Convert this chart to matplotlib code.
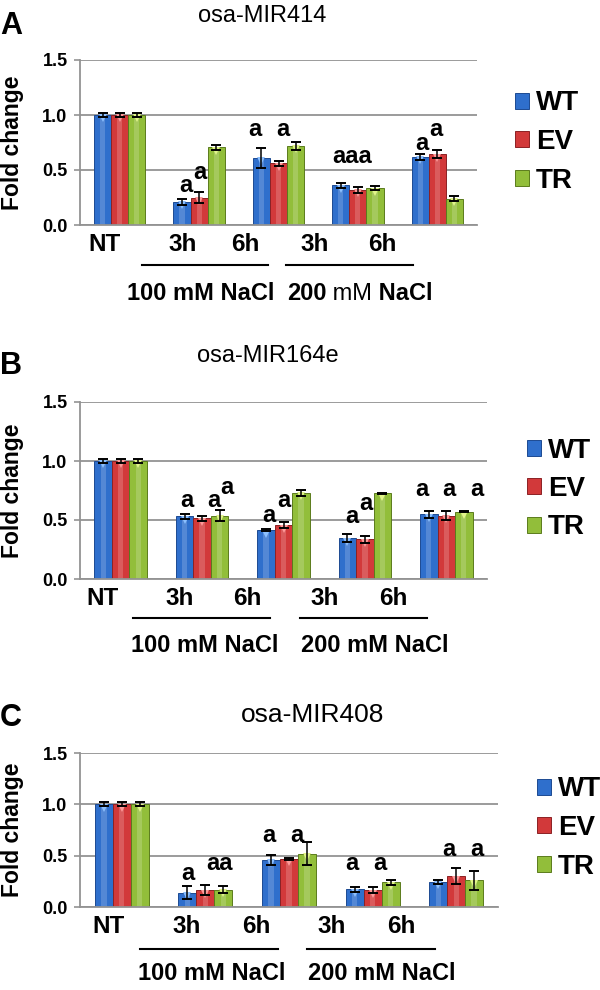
import matplotlib
matplotlib.use("Agg")
import matplotlib.pyplot as plt
import numpy as np
from matplotlib import transforms
from matplotlib.ticker import FormatStrFormatter

plt.rcParams['font.family'] = ['Liberation Sans', 'DejaVu Sans']

W, H = 600, 990

# -----------------------------
# DATA
# -----------------------------
lines = ["WT", "EV", "TR"]
groups = ["NT", "3h", "6h", "3h", "6h"]
conditions = ["100 mM NaCl", "200 mM NaCl"]

# A: osa-MIR414
a_wt = [1.00, 0.21, 0.61, 0.36, 0.62]
a_wt_err = [0.02, 0.025, 0.09, 0.02, 0.025]
a_ev = [1.00, 0.25, 0.56, 0.32, 0.645]
a_ev_err = [0.02, 0.05, 0.02, 0.03, 0.04]
a_tr = [1.00, 0.705, 0.72, 0.335, 0.24]
a_tr_err = [0.02, 0.02, 0.035, 0.02, 0.02]
a_letters = [(1.33, 0.36, "a"), (1.51, 0.48, "a"), (2.20, 0.87, "a"), (2.56, 0.87, "a"),
             (3.43, 0.62, "aaa"), (4.31, 0.74, "a"), (4.48, 0.87, "a")]

# B: osa-MIR164e
b_wt = [1.00, 0.53, 0.415, 0.345, 0.55]
b_wt_err = [0.02, 0.025, 0.005, 0.035, 0.03]
b_ev = [1.00, 0.515, 0.457, 0.336, 0.537]
b_ev_err = [0.02, 0.02, 0.025, 0.03, 0.04]
b_tr = [1.00, 0.537, 0.73, 0.726, 0.57]
b_tr_err = [0.02, 0.045, 0.025, 0.005, 0.005]
b_letters = [(1.31, 0.664, "a"), (1.64, 0.664, "a"), (1.81, 0.777, "a"),
             (2.32, 0.54, "a"), (2.50, 0.664, "a"),
             (3.34, 0.528, "a"), (3.51, 0.64, "a"),
             (4.20, 0.76, "a"), (4.53, 0.76, "a"), (4.88, 0.76, "a")]

# C: osa-MIR408
c_wt = [1.00, 0.14, 0.458, 0.173, 0.245]
c_wt_err = [0.02, 0.06, 0.045, 0.025, 0.02]
c_ev = [1.00, 0.163, 0.47, 0.163, 0.30]
c_ev_err = [0.02, 0.05, 0.01, 0.03, 0.08]
c_tr = [1.00, 0.17, 0.52, 0.24, 0.26]
c_tr_err = [0.02, 0.03, 0.11, 0.025, 0.09]
c_letters = [(1.29, 0.327, "a"), (1.67, 0.425, "aa"), (2.26, 0.693, "a"), (2.60, 0.70, "a"),
             (3.25, 0.425, "a"), (3.59, 0.425, "a"), (4.41, 0.556, "a"), (4.75, 0.556, "a")]

# -----------------------------
# LAYOUT (pixel positions in the 600x990 image)
# -----------------------------
panels = [
    dict(tag="A", title="osa-MIR414", tsize=17, title_xy=(262, 16), tag_y=26,
         box=(80, 60, 477, 225), vals=(a_wt, a_ev, a_tr), errs=(a_wt_err, a_ev_err, a_tr_err),
         letters=a_letters, tick_px=[105, 183, 245, 315, 382], tick_y=247,
         line_y=265, line_x=[(142, 268), (286, 413)], cond_y=294, cond_x=[201, 287],
         leg=(515, 142)),
    dict(tag="B", title="osa-MIR164e", tsize=17, title_xy=(268, 356), tag_y=366,
         box=(80, 402, 487, 579), vals=(b_wt, b_ev, b_tr), errs=(b_wt_err, b_ev_err, b_tr_err),
         letters=b_letters, tick_px=[102, 180, 247, 325, 393], tick_y=602,
         line_y=618, line_x=[(133, 270), (300, 427)], cond_y=645, cond_x=[205, 375],
         leg=(527, 489)),
    dict(tag="C", title="osa-MIR408", tsize=19, title_xy=(313, 715), tag_y=718,
         box=(80, 753, 498, 907), vals=(c_wt, c_ev, c_tr), errs=(c_wt_err, c_ev_err, c_tr_err),
         letters=c_letters, tick_px=[109, 187, 256, 332, 401], tick_y=932,
         line_y=949, line_x=[(140, 278), (307, 435)], cond_y=974, cond_x=[212, 382],
         leg=(537, 828)),
]

face = ["#2f6fcc", "#d2393a", "#92be3a"]
edge = ["#1d4a92", "#8c2124", "#5b7b1d"]
light = ["#8cc0ff", "#ff9a9a", "#e2f58a"]
grey = "#939393"


def fx(px):
    return px / W


def fy(py):
    return 1 - py / H


fig = plt.figure(figsize=(6, 9.9), dpi=100)

for p in panels:
    x0, y0, x1, y1 = p["box"]
    ax = fig.add_axes([fx(x0), fy(y1), (x1 - x0) / W, (y1 - y0) / H])
    ax.set_xlim(0, 5)
    ax.set_ylim(0, 1.5)
    ax.set_axisbelow(True)

    x = np.arange(len(groups)) + 0.5
    w = 0.215
    handles = []
    for i in range(3):
        xi = x + (i - 1) * w
        b = ax.bar(xi, p["vals"][i], width=w, color=face[i], edgecolor=edge[i],
                   linewidth=0.7, label=lines[i], zorder=2)
        handles.append(b)
        # light stripe + top highlight for the glossy look
        ax.bar(xi, p["vals"][i], width=w * 0.3, color="white", alpha=0.18,
               linewidth=0, zorder=2.1)
        shift = transforms.offset_copy(ax.transData, fig=fig, x=0, y=-2.5, units="points")
        ax.plot(xi, p["vals"][i], "v", ms=6, color=light[i], mew=0,
                transform=shift, zorder=2.2)
        ax.errorbar(xi, p["vals"][i], yerr=p["errs"][i], fmt="none", ecolor="black",
                    elinewidth=1.1, capsize=3.5, capthick=1.4, zorder=3)

    for lx, ly, s in p["letters"]:
        ax.text(lx, ly, s, ha="center", va="center", fontsize=17,
                fontweight="bold", zorder=4)

    # axes styling
    ax.set_yticks([0, 0.5, 1.0, 1.5])
    ax.yaxis.set_major_formatter(FormatStrFormatter("%.1f"))
    ax.grid(axis="y", color=grey, linewidth=1.3)
    for s in ["top", "right"]:
        ax.spines[s].set_visible(False)
    for s in ["left", "bottom"]:
        ax.spines[s].set_color(grey)
        ax.spines[s].set_linewidth(1.3)
    ax.tick_params(axis="y", length=4, color=grey, width=1.2, pad=5,
                   labelsize=13)
    for t in ax.get_yticklabels():
        t.set_fontweight("bold")

    tick_pos = [(px - x0) / (x1 - x0) * 5 for px in p["tick_px"]]
    ax.set_xticks(tick_pos, groups)
    ax.tick_params(axis="x", length=0, labelsize=17.5, pad=6)
    for t in ax.get_xticklabels():
        t.set_fontweight("bold")

    fig.text(fx(13), fy((y0 + y1) / 2), "Fold change", rotation=90, ha="center",
             va="center", fontsize=16.5, fontweight="bold")

    fig.text(fx(p["title_xy"][0]), fy(p["title_xy"][1]), p["title"], ha="center",
             va="center", fontsize=p["tsize"])
    fig.text(fx(0), fy(p["tag_y"]), p["tag"], ha="left", va="center",
             fontsize=22, fontweight="bold")

    for lx0, lx1 in p["line_x"]:
        fig.add_artist(plt.Line2D([fx(lx0), fx(lx1)], [fy(p["line_y"])] * 2,
                                  color="black", linewidth=1.5))

    if p["tag"] == "A":
        fig.text(fx(p["cond_x"][0]), fy(p["cond_y"]), conditions[0], ha="center",
                 va="center", fontsize=17, fontweight="bold")
        t1 = fig.text(fx(p["cond_x"][1]), fy(p["cond_y"]), "200", ha="left",
                      va="center", fontsize=17, fontweight="bold")
        t2 = ax.annotate(" mM", xy=(1, 0), xycoords=t1, ha="left", va="bottom",
                         fontsize=17, annotation_clip=False)
        ax.annotate(" NaCl", xy=(1, 0), xycoords=t2, ha="left", va="bottom",
                    fontsize=17, fontweight="bold", annotation_clip=False)
    else:
        for cx, c in zip(p["cond_x"], conditions):
            fig.text(fx(cx), fy(p["cond_y"]), c, ha="center", va="center",
                     fontsize=17, fontweight="bold")

    ax.legend(handles=handles, loc="center left",
              bbox_to_anchor=(fx(p["leg"][0]), fy(p["leg"][1])),
              bbox_transform=fig.transFigure, frameon=False, borderpad=0,
              borderaxespad=0, handlelength=0.5, handleheight=0.5,
              handletextpad=0.25, labelspacing=0.45,
              prop=dict(size=20, weight="bold"))

fig.savefig("out.png", dpi=100)
